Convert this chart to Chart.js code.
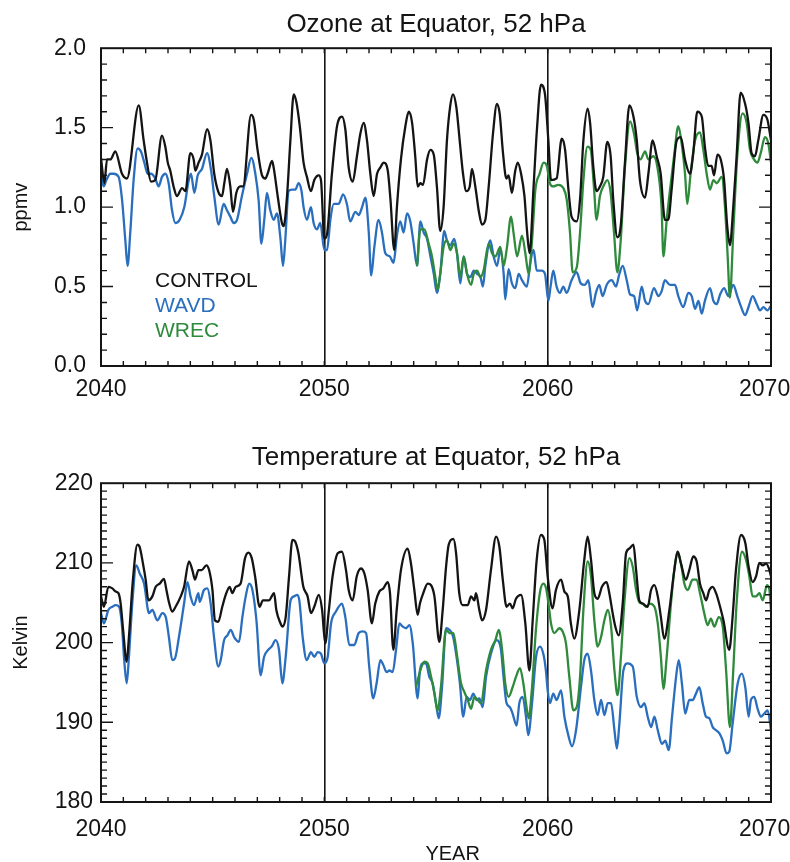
<!DOCTYPE html>
<html>
<head>
<meta charset="utf-8">
<script src="https://cdn.jsdelivr.net/npm/chart.js@4/dist/chart.umd.min.js"></script>
<style>
  html, body { margin: 0; padding: 0; background: #fff; }
  #wrap { position: relative; width: 790px; height: 862px; }
  .panel { position: absolute; left: 0; width: 790px; height: 431px; }
</style>
</head>
<body>
<div id="wrap">
  <div class="panel" style="top:0"><canvas id="ozone" width="790" height="431"></canvas></div>
  <div class="panel" style="top:431px"><canvas id="temp" width="790" height="431"></canvas></div>
</div>
<script>
// [year, value] at the turning points of each curve
const ozoneControl = [
  [2040.00,1.31],[2040.15,1.15],[2040.27,1.30],[2040.42,1.30],[2040.64,1.35],[2040.94,1.21],[2041.16,1.18],[2041.69,1.64],[2041.91,1.42],
  [2042.06,1.28],[2042.24,1.16],[2042.43,1.17],[2042.73,1.45],[2042.88,1.38],[2042.99,1.28],[2043.10,1.23],[2043.25,1.13],[2043.40,1.07],
  [2043.63,1.12],[2043.78,1.10],[2044.00,1.34],[2044.15,1.30],[2044.22,1.23],[2044.37,1.28],[2044.52,1.33],[2044.75,1.49],[2044.90,1.42],
  [2045.07,1.21],[2045.27,1.09],[2045.42,1.07],[2045.52,1.15],[2045.64,1.24],[2045.79,1.13],[2045.91,0.97],[2046.06,1.09],[2046.24,1.13],
  [2046.36,1.13],[2046.72,1.58],[2046.84,1.55],[2047.01,1.36],[2047.21,1.20],[2047.36,1.18],[2047.46,1.21],[2047.66,1.29],[2047.73,1.25],
  [2047.91,1.07],[2048.10,0.90],[2048.18,0.88],[2048.33,1.07],[2048.48,1.42],[2048.63,1.71],[2048.75,1.66],[2048.90,1.51],[2049.07,1.28],
  [2049.22,1.19],[2049.40,1.10],[2049.55,1.17],[2049.75,1.20],[2049.85,1.17],[2050.00,0.80],[2050.12,0.83],[2050.34,1.21],[2050.57,1.51],
  [2050.79,1.57],[2050.94,1.49],[2051.09,1.25],[2051.27,1.16],[2051.46,1.32],[2051.61,1.46],[2051.76,1.53],[2051.91,1.42],[2052.06,1.21],
  [2052.21,1.07],[2052.36,1.21],[2052.51,1.25],[2052.66,1.28],[2052.84,1.23],[2052.96,1.05],[2053.13,0.73],[2053.25,1.00],[2053.43,1.30],
  [2053.63,1.51],[2053.78,1.60],[2053.93,1.53],[2054.07,1.32],[2054.18,1.13],[2054.30,1.15],[2054.42,1.14],[2054.60,1.30],[2054.75,1.36],
  [2054.90,1.33],[2055.04,1.13],[2055.19,0.85],[2055.34,1.00],[2055.49,1.42],[2055.64,1.64],[2055.76,1.71],[2055.91,1.63],[2056.06,1.42],
  [2056.21,1.21],[2056.36,1.10],[2056.51,1.13],[2056.61,1.24],[2056.76,1.13],[2056.91,0.98],[2057.06,0.89],[2057.21,0.92],[2057.36,1.13],
  [2057.55,1.46],[2057.73,1.65],[2057.85,1.59],[2058.00,1.34],[2058.15,1.18],[2058.25,1.20],[2058.40,1.09],[2058.55,1.23],[2058.66,1.28],
  [2058.81,1.21],[2058.96,1.07],[2059.07,0.86],[2059.19,0.71],[2059.37,1.13],[2059.52,1.49],[2059.70,1.77],[2059.88,1.71],[2060.03,1.42],
  [2060.15,1.17],[2060.40,1.18],[2060.63,1.43],[2060.78,1.36],[2060.93,1.11],[2061.07,0.94],[2061.30,0.91],[2061.45,1.05],[2061.60,1.42],
  [2061.79,1.62],[2061.90,1.53],[2062.04,1.26],[2062.19,1.10],[2062.34,1.13],[2062.49,1.19],[2062.67,1.41],[2062.82,1.32],[2062.94,1.04],
  [2063.12,0.81],[2063.27,0.88],[2063.46,1.28],[2063.66,1.64],[2063.84,1.57],[2063.99,1.42],[2064.13,1.17],[2064.36,1.06],[2064.51,1.21],
  [2064.70,1.42],[2064.88,1.32],[2065.06,1.21],[2065.25,0.92],[2065.40,0.92],[2065.55,1.11],[2065.78,1.42],[2065.96,1.44],[2066.15,1.30],
  [2066.37,1.21],[2066.52,1.34],[2066.70,1.60],[2066.90,1.57],[2067.04,1.38],[2067.19,1.26],[2067.34,1.26],[2067.45,1.20],[2067.60,1.33],
  [2067.75,1.30],[2067.90,1.17],[2068.04,0.88],[2068.16,0.76],[2068.31,1.00],[2068.46,1.32],[2068.64,1.72],[2068.84,1.65],[2068.99,1.53],
  [2069.13,1.34],[2069.28,1.32],[2069.43,1.42],[2069.66,1.58],[2069.84,1.55],[2070.00,1.42]
];
const ozoneWavd = [
  [2040.00,1.20],[2040.12,1.13],[2040.24,1.17],[2040.42,1.21],[2040.57,1.21],[2040.79,1.19],[2040.94,1.05],[2041.09,0.79],[2041.19,0.63],
  [2041.31,0.84],[2041.46,1.17],[2041.64,1.37],[2041.79,1.35],[2041.94,1.28],[2042.09,1.21],[2042.24,1.21],[2042.43,1.18],[2042.58,1.13],
  [2042.73,1.19],[2042.88,1.21],[2043.03,1.15],[2043.18,0.98],[2043.33,0.90],[2043.52,0.92],[2043.73,1.00],[2043.93,1.17],[2044.03,1.21],
  [2044.18,1.09],[2044.33,1.20],[2044.52,1.24],[2044.75,1.34],[2044.93,1.23],[2045.07,1.07],[2045.27,0.89],[2045.49,1.02],[2045.64,0.98],
  [2045.79,0.94],[2045.94,0.90],[2046.09,0.92],[2046.31,1.07],[2046.54,1.21],[2046.73,1.31],[2046.91,1.21],[2047.06,1.04],[2047.18,0.77],
  [2047.31,0.92],[2047.43,1.09],[2047.58,0.98],[2047.73,0.92],[2047.88,0.96],[2048.03,0.81],[2048.15,0.63],[2048.25,0.79],[2048.40,1.10],
  [2048.55,1.11],[2048.70,1.11],[2048.85,1.15],[2048.98,1.10],[2049.07,1.00],[2049.22,0.92],[2049.40,1.00],[2049.52,0.90],[2049.67,0.86],
  [2049.82,0.90],[2050.00,0.73],[2050.12,0.73],[2050.27,0.92],[2050.42,1.02],[2050.64,1.02],[2050.84,1.08],[2051.01,1.02],[2051.16,0.91],
  [2051.39,0.97],[2051.54,0.95],[2051.69,1.00],[2051.84,1.06],[2051.99,0.84],[2052.10,0.57],[2052.24,0.75],[2052.43,0.92],[2052.58,0.84],
  [2052.73,0.71],[2052.93,0.69],[2053.10,0.65],[2053.25,0.82],[2053.40,0.91],[2053.55,0.84],[2053.70,0.96],[2053.85,0.91],[2054.00,0.77],
  [2054.15,0.63],[2054.30,0.91],[2054.45,0.84],[2054.60,0.80],[2054.75,0.69],[2054.90,0.58],[2055.04,0.46],[2055.19,0.58],[2055.37,0.85],
  [2055.49,0.79],[2055.64,0.76],[2055.82,0.80],[2055.94,0.71],[2056.09,0.52],[2056.24,0.69],[2056.39,0.58],[2056.54,0.56],[2056.69,0.60],
  [2056.84,0.58],[2056.99,0.56],[2057.10,0.50],[2057.21,0.63],[2057.43,0.79],[2057.58,0.69],[2057.73,0.63],[2057.88,0.73],[2058.03,0.58],
  [2058.10,0.42],[2058.25,0.61],[2058.40,0.52],[2058.55,0.49],[2058.70,0.58],[2058.85,0.54],[2059.07,0.50],[2059.22,0.65],[2059.37,0.73],
  [2059.51,0.60],[2059.73,0.60],[2059.88,0.58],[2060.03,0.41],[2060.13,0.50],[2060.25,0.60],[2060.40,0.50],[2060.55,0.46],[2060.70,0.50],
  [2060.85,0.46],[2061.07,0.54],[2061.30,0.59],[2061.48,0.52],[2061.67,0.51],[2061.82,0.54],[2062.01,0.37],[2062.16,0.46],[2062.31,0.51],
  [2062.46,0.44],[2062.64,0.51],[2062.87,0.54],[2063.06,0.50],[2063.21,0.58],[2063.36,0.63],[2063.54,0.54],[2063.69,0.45],[2063.87,0.44],
  [2064.01,0.35],[2064.21,0.50],[2064.36,0.41],[2064.51,0.39],[2064.76,0.49],[2064.96,0.44],[2065.10,0.47],[2065.25,0.54],[2065.48,0.51],
  [2065.70,0.51],[2065.85,0.44],[2066.07,0.37],[2066.30,0.46],[2066.45,0.44],[2066.60,0.36],[2066.75,0.41],[2066.90,0.33],[2067.04,0.41],
  [2067.27,0.49],[2067.42,0.41],[2067.57,0.39],[2067.72,0.45],[2067.90,0.49],[2068.09,0.44],[2068.31,0.51],[2068.49,0.44],[2068.64,0.38],
  [2068.84,0.32],[2068.99,0.37],[2069.18,0.44],[2069.36,0.39],[2069.51,0.35],[2069.66,0.37],[2069.84,0.35],[2070.00,0.38]
];
const ozoneWrec = [
  [2054.15,0.63],[2054.30,0.86],[2054.48,0.86],[2054.67,0.77],[2054.82,0.69],[2054.97,0.56],[2055.07,0.48],[2055.19,0.58],[2055.34,0.75],
  [2055.49,0.79],[2055.64,0.73],[2055.79,0.77],[2055.94,0.71],[2056.09,0.56],[2056.24,0.69],[2056.39,0.58],[2056.57,0.51],[2056.69,0.58],
  [2056.84,0.60],[2056.99,0.56],[2057.13,0.60],[2057.36,0.77],[2057.51,0.71],[2057.66,0.69],[2057.88,0.75],[2058.03,0.63],[2058.18,0.75],
  [2058.36,0.94],[2058.48,0.83],[2058.63,0.69],[2058.85,0.82],[2059.00,0.71],[2059.15,0.58],[2059.30,0.79],[2059.45,1.11],[2059.64,1.21],
  [2059.82,1.28],[2059.96,1.26],[2060.10,1.15],[2060.25,1.13],[2060.48,1.14],[2060.70,1.12],[2060.85,1.05],[2061.00,0.84],[2061.12,0.59],
  [2061.30,0.62],[2061.45,0.84],[2061.60,1.17],[2061.78,1.38],[2061.93,1.36],[2062.07,1.13],[2062.19,0.92],[2062.34,1.07],[2062.49,1.13],
  [2062.67,1.17],[2062.82,1.09],[2062.97,0.84],[2063.12,0.59],[2063.27,0.79],[2063.46,1.25],[2063.69,1.54],[2063.87,1.46],[2064.01,1.34],
  [2064.16,1.30],[2064.36,1.35],[2064.51,1.30],[2064.73,1.32],[2064.96,1.21],[2065.10,1.00],[2065.18,0.69],[2065.33,0.92],[2065.48,1.11],
  [2065.66,1.32],[2065.85,1.51],[2066.00,1.40],[2066.15,1.21],[2066.25,1.02],[2066.40,1.21],[2066.60,1.42],[2066.82,1.47],[2066.97,1.36],
  [2067.12,1.21],[2067.27,1.11],[2067.42,1.17],[2067.57,1.15],[2067.79,1.19],[2067.94,1.00],[2068.06,0.69],[2068.16,0.43],[2068.31,0.84],
  [2068.49,1.32],[2068.73,1.59],[2068.91,1.53],[2069.06,1.36],[2069.24,1.30],[2069.39,1.28],[2069.54,1.34],[2069.73,1.44],[2069.88,1.40],
  [2070.00,1.28]
];
const tempControl = [
  [2040.00,205.8],[2040.13,204.5],[2040.33,207.0],[2040.51,206.8],[2040.66,206.4],[2040.78,206.2],[2040.88,204.9],[2040.99,201.6],[2041.15,197.6],
  [2041.25,200.7],[2041.43,207.9],[2041.63,212.3],[2041.73,212.0],[2041.88,209.9],[2042.00,207.9],[2042.12,205.3],[2042.30,205.8],[2042.45,207.0],
  [2042.63,207.4],[2042.82,208.0],[2042.93,206.6],[2043.04,205.1],[2043.19,203.9],[2043.34,204.5],[2043.57,205.8],[2043.72,207.0],[2043.94,210.2],
  [2044.09,209.1],[2044.21,207.9],[2044.36,209.1],[2044.51,209.1],[2044.72,209.7],[2044.84,209.1],[2044.99,206.6],[2045.10,202.8],[2045.25,202.6],
  [2045.43,204.5],[2045.61,206.2],[2045.76,207.0],[2045.88,206.2],[2046.03,207.0],[2046.25,207.4],[2046.45,210.6],[2046.60,211.3],[2046.75,210.6],
  [2046.90,208.3],[2047.10,204.5],[2047.25,205.3],[2047.52,205.3],[2047.75,206.2],[2047.85,204.1],[2048.04,202.4],[2048.12,202.0],[2048.27,203.2],
  [2048.42,208.3],[2048.57,212.9],[2048.69,212.7],[2048.84,211.2],[2049.06,207.0],[2049.25,205.8],[2049.40,203.7],[2049.55,204.5],[2049.75,206.0],
  [2049.90,204.1],[2050.04,199.9],[2050.19,203.7],[2050.37,208.3],[2050.60,211.2],[2050.79,211.4],[2050.97,209.1],[2051.09,206.6],[2051.27,205.3],
  [2051.45,208.3],[2051.64,209.3],[2051.79,208.7],[2051.94,206.6],[2052.13,202.4],[2052.28,204.9],[2052.46,206.4],[2052.64,206.8],[2052.84,207.6],
  [2052.94,206.2],[2053.09,199.1],[2053.24,204.1],[2053.43,209.1],[2053.73,211.8],[2053.88,209.9],[2054.03,206.6],[2054.18,203.5],[2054.28,204.9],
  [2054.43,206.2],[2054.63,207.4],[2054.78,207.2],[2054.93,205.8],[2055.15,200.1],[2055.30,204.1],[2055.45,209.5],[2055.57,212.3],[2055.78,213.0],
  [2055.90,211.2],[2056.04,206.2],[2056.19,204.7],[2056.42,204.7],[2056.57,205.8],[2056.72,205.3],[2056.79,206.2],[2056.94,204.1],[2057.06,202.8],
  [2057.24,204.1],[2057.46,209.1],[2057.69,213.3],[2057.84,212.0],[2057.99,207.9],[2058.16,204.5],[2058.31,204.9],[2058.43,204.3],[2058.58,205.5],
  [2058.81,206.0],[2059.00,202.4],[2059.18,196.5],[2059.33,202.8],[2059.51,210.4],[2059.70,213.5],[2059.85,212.9],[2060.00,208.3],[2060.22,204.3],
  [2060.37,206.6],[2060.60,207.9],[2060.75,206.4],[2060.90,205.8],[2061.04,202.4],[2061.19,200.5],[2061.42,204.1],[2061.64,210.4],[2061.79,213.3],
  [2061.94,210.4],[2062.09,206.2],[2062.24,205.5],[2062.43,207.0],[2062.64,207.6],[2062.76,206.2],[2062.91,203.7],[2063.03,202.0],[2063.18,200.9],
  [2063.36,204.9],[2063.51,211.2],[2063.66,211.8],[2063.84,212.3],[2063.96,209.1],[2064.10,205.3],[2064.25,204.9],[2064.48,204.5],[2064.63,206.6],
  [2064.78,207.2],[2064.93,205.8],[2065.07,203.2],[2065.22,200.5],[2065.45,204.1],[2065.67,209.1],[2065.82,211.4],[2065.97,209.9],[2066.19,207.9],
  [2066.34,209.1],[2066.52,210.8],[2066.67,210.2],[2066.82,207.4],[2066.97,206.2],[2067.09,205.3],[2067.24,206.6],[2067.39,207.0],[2067.54,206.2],
  [2067.72,204.5],[2067.87,202.8],[2068.13,199.1],[2068.28,203.2],[2068.43,209.1],[2068.66,213.5],[2068.85,212.5],[2069.00,209.5],[2069.18,207.6],
  [2069.33,208.3],[2069.48,210.0],[2069.63,209.7],[2069.78,209.9],[2069.93,209.1],[2070.00,208.3]
];
const tempWavd = [
  [2040.00,203.7],[2040.13,202.4],[2040.33,204.1],[2040.51,204.5],[2040.66,204.7],[2040.81,204.5],[2040.93,202.4],[2041.04,197.8],[2041.15,194.9],
  [2041.25,198.2],[2041.40,204.9],[2041.58,209.7],[2041.73,208.7],[2041.93,207.4],[2042.15,203.7],[2042.30,204.1],[2042.52,202.8],[2042.75,203.7],
  [2042.90,203.2],[2043.04,200.7],[2043.19,197.8],[2043.31,198.0],[2043.49,200.7],[2043.72,204.9],[2043.87,207.6],[2044.01,205.8],[2044.16,204.7],
  [2044.36,206.2],[2044.42,205.1],[2044.61,206.6],[2044.76,206.8],[2044.91,204.9],[2045.06,200.7],[2045.25,197.0],[2045.36,197.8],[2045.51,200.3],
  [2045.66,200.9],[2045.81,201.6],[2045.96,200.7],[2046.18,200.1],[2046.33,203.2],[2046.48,205.8],[2046.63,207.4],[2046.78,206.6],[2046.96,202.8],
  [2047.15,195.9],[2047.30,198.2],[2047.49,199.1],[2047.64,199.5],[2047.82,200.3],[2047.97,199.1],[2048.12,194.9],[2048.27,198.2],[2048.49,205.3],
  [2048.64,205.8],[2048.79,206.0],[2048.88,205.3],[2049.03,200.7],[2049.21,197.8],[2049.40,198.8],[2049.55,198.2],[2049.70,198.8],[2049.85,198.6],
  [2050.00,197.4],[2050.15,198.2],[2050.30,202.4],[2050.52,203.9],[2050.79,204.9],[2050.94,203.2],[2051.12,199.7],[2051.34,199.7],[2051.54,201.2],
  [2051.72,201.4],[2051.87,201.2],[2052.01,197.0],[2052.19,193.0],[2052.34,194.9],[2052.51,197.8],[2052.64,197.2],[2052.79,196.3],[2052.91,196.5],
  [2053.06,196.3],[2053.21,199.1],[2053.36,202.4],[2053.51,202.0],[2053.66,201.8],[2053.81,202.2],[2053.96,199.9],[2054.18,193.0],[2054.28,196.5],
  [2054.43,197.4],[2054.55,197.4],[2054.70,195.7],[2054.85,194.9],[2055.00,192.4],[2055.12,190.5],[2055.27,194.4],[2055.45,201.8],[2055.60,201.6],
  [2055.75,200.9],[2055.90,198.6],[2056.07,194.9],[2056.22,190.7],[2056.37,193.2],[2056.52,192.8],[2056.67,193.6],[2056.82,192.8],[2056.94,193.0],
  [2057.09,191.9],[2057.24,195.7],[2057.46,198.6],[2057.72,200.3],[2057.91,199.1],[2058.01,196.1],[2058.16,192.4],[2058.31,191.9],[2058.43,191.1],
  [2058.61,189.6],[2058.73,192.4],[2058.88,193.2],[2059.03,190.7],[2059.13,188.4],[2059.30,192.4],[2059.48,198.2],[2059.66,199.5],[2059.82,198.4],
  [2059.92,196.5],[2060.00,194.0],[2060.10,192.4],[2060.25,193.6],[2060.40,192.8],[2060.60,194.0],[2060.75,190.7],[2060.94,188.2],[2061.09,187.0],
  [2061.27,189.0],[2061.49,194.4],[2061.64,197.8],[2061.79,198.6],[2061.94,196.5],[2062.09,192.8],[2062.24,190.9],[2062.39,192.8],[2062.54,190.9],
  [2062.69,192.4],[2062.84,192.4],[2062.99,189.0],[2063.10,186.7],[2063.21,189.8],[2063.39,196.5],[2063.58,197.4],[2063.81,197.0],[2063.99,193.2],
  [2064.18,191.9],[2064.33,192.4],[2064.48,190.7],[2064.63,189.4],[2064.78,190.7],[2064.93,189.0],[2065.12,187.3],[2065.27,187.7],[2065.42,186.5],
  [2065.57,190.7],[2065.75,195.7],[2065.87,197.8],[2066.01,194.9],[2066.16,191.1],[2066.34,192.8],[2066.49,192.8],[2066.64,193.6],[2066.79,194.4],
  [2066.94,192.4],[2067.09,190.7],[2067.24,190.5],[2067.39,189.4],[2067.54,189.0],[2067.69,188.6],[2067.84,187.7],[2068.01,186.1],[2068.13,186.3],
  [2068.28,189.8],[2068.51,194.9],[2068.70,196.1],[2068.85,194.4],[2069.00,190.7],[2069.10,192.8],[2069.25,193.2],[2069.40,191.7],[2069.55,190.7],
  [2069.70,191.1],[2069.85,191.5],[2070.00,189.0]
];
const tempWrec = [
  [2054.10,194.4],[2054.22,195.7],[2054.33,196.8],[2054.48,197.6],[2054.63,197.4],[2054.78,195.7],[2054.93,193.6],[2055.07,191.5],[2055.22,194.4],
  [2055.45,201.6],[2055.60,201.2],[2055.78,201.2],[2055.93,198.6],[2056.12,194.9],[2056.27,193.8],[2056.42,192.8],[2056.57,191.7],[2056.72,193.2],
  [2056.87,192.8],[2057.01,192.4],[2057.24,196.5],[2057.46,199.1],[2057.66,200.3],[2057.81,201.6],[2057.96,199.1],[2058.10,194.9],[2058.25,193.2],
  [2058.43,194.4],[2058.58,195.7],[2058.76,196.8],[2058.91,194.9],[2059.03,192.4],[2059.15,190.5],[2059.30,194.4],[2059.48,201.8],[2059.66,206.4],
  [2059.81,207.4],[2059.93,206.8],[2060.05,204.6],[2060.15,202.4],[2060.30,201.2],[2060.52,201.8],[2060.67,201.4],[2060.82,199.9],[2060.97,195.7],
  [2061.15,191.5],[2061.30,191.9],[2061.45,195.7],[2061.60,204.1],[2061.79,210.2],[2061.94,208.3],[2062.09,202.8],[2062.24,199.5],[2062.39,200.7],
  [2062.54,202.8],[2062.69,204.1],[2062.84,202.0],[2062.99,196.5],[2063.13,193.4],[2063.28,198.2],[2063.43,204.9],[2063.66,210.6],[2063.81,209.5],
  [2063.96,206.6],[2064.10,205.1],[2064.25,204.9],[2064.40,204.5],[2064.58,204.9],[2064.78,204.5],[2064.93,202.4],[2065.07,198.2],[2065.18,194.2],
  [2065.33,198.2],[2065.52,204.9],[2065.72,210.2],[2065.82,211.4],[2065.97,209.9],[2066.12,207.4],[2066.27,206.6],[2066.49,207.9],[2066.67,207.9],
  [2066.82,206.2],[2067.01,203.7],[2067.16,202.2],[2067.31,203.0],[2067.46,202.0],[2067.66,203.2],[2067.84,202.0],[2067.99,196.5],[2068.16,189.4],
  [2068.31,196.5],[2068.46,204.9],[2068.70,211.4],[2068.88,210.4],[2069.03,208.3],[2069.18,205.8],[2069.33,205.8],[2069.48,206.2],[2069.63,205.3],
  [2069.82,207.2],[2069.93,206.6],[2070.00,204.1]
];
const seriesNames = ['CONTROL', 'WAVD', 'WREC'];
const seriesColors = ['#141414', '#2a6ebe', '#2f8a3c'];
const yearTicks = [2040, 2050, 2060, 2070];

const FONT = "'Liberation Sans', Arial, Helvetica, sans-serif";

function toXY(pairs) {
  return pairs.map(p => ({ x: p[0], y: p[1] }));
}

function line(label, pairs, color) {
  return {
    label: label,
    data: toXY(pairs),
    borderColor: color,
    borderWidth: 2.3,
    pointRadius: 0,
    fill: false,
    cubicInterpolationMode: 'monotone'
  };
}

// frame, inward tick marks (IDL style) and the in-plot legend
const framePlugin = {
  id: 'frame',
  afterDatasetsDraw(chart, args, o) {
    const { ctx, chartArea: a, scales: { x, y } } = chart;
    ctx.save();
    ctx.strokeStyle = '#141414';
    ctx.lineWidth = 1.4;
    ctx.beginPath();
    for (let yr = 2041; yr < 2070; yr++) {
      const px = x.getPixelForValue(yr);
      ctx.moveTo(px, a.bottom); ctx.lineTo(px, a.bottom - 5);
      ctx.moveTo(px, a.top); ctx.lineTo(px, a.top + 5);
    }
    const n = Math.round((o.max - o.min) / o.minor);
    for (let k = 1; k < n; k++) {
      const py = y.getPixelForValue(o.min + k * o.minor);
      const len = (k % o.perMajor === 0) ? 12 : 6;
      ctx.moveTo(a.left, py); ctx.lineTo(a.left + len, py);
      ctx.moveTo(a.right, py); ctx.lineTo(a.right - len, py);
    }
    ctx.stroke();
    ctx.lineWidth = 2;
    ctx.strokeRect(a.left, a.top, a.right - a.left, a.bottom - a.top);
    if (o.legend) {
      ctx.font = '21px ' + FONT;
      ctx.textBaseline = 'alphabetic';
      ctx.textAlign = 'left';
      seriesNames.forEach((name, i) => {
        ctx.fillStyle = seriesColors[i];
        ctx.fillText(name, a.left + 54, a.top + 239 + i * 25);
      });
    }
    ctx.restore();
  }
};

function makeChart(id, cfg) {
  return new Chart(document.getElementById(id), {
    type: 'line',
    data: {
      datasets: [
        line(seriesNames[0], cfg.control, seriesColors[0]),
        line(seriesNames[2], cfg.wrec, seriesColors[2]),
        line(seriesNames[1], cfg.wavd, seriesColors[1])
      ]
    },
    plugins: [framePlugin],
    options: {
      responsive: false,
      animation: false,
      layout: { padding: { left: 0, right: 19, top: 0, bottom: 0 } },
      plugins: {
        legend: { display: false },
        tooltip: { enabled: false },
        title: {
          display: true,
          fullSize: false,
          text: cfg.title,
          color: '#141414',
          font: { family: FONT, size: 26, weight: 'normal' },
          padding: cfg.titlePad
        },
        frame: cfg.frame
      },
      scales: {
        x: {
          type: 'linear',
          min: 2040,
          max: 2070,
          afterFit(s) { s.height = cfg.xHeight; s.paddingLeft = 0; s.paddingRight = 0; },
          ticks: {
            stepSize: 1,
            autoSkip: false,
            maxRotation: 0,
            padding: cfg.xPad,
            color: '#141414',
            font: { family: FONT, size: 23 },
            // trailing spaces nudge the last label left so it stays inside the page
            callback: v => yearTicks.includes(v) ? (v === 2070 ? '2070  ' : String(v)) : ''
          },
          grid: {
            drawTicks: false,
            lineWidth: 1.6,
            color: c => (c.tick && (c.tick.value === 2050 || c.tick.value === 2060)) ? '#141414' : 'rgba(0,0,0,0)'
          },
          border: { display: false },
          title: cfg.xTitle
        },
        y: {
          min: cfg.ymin,
          max: cfg.ymax,
          afterFit(s) { s.width = 101; },
          ticks: {
            stepSize: cfg.ystep,
            padding: cfg.yPad,
            color: '#141414',
            font: { family: FONT, size: 23 },
            callback: cfg.yFmt
          },
          grid: { display: false, drawTicks: false },
          border: { display: false },
          title: {
            display: true,
            text: cfg.yTitle,
            color: '#141414',
            font: { family: FONT, size: 20 },
            padding: { top: 9, bottom: 0 }
          }
        }
      }
    }
  });
}

makeChart('ozone', {
  title: 'Ozone at Equator, 52 hPa',
  titlePad: { top: 9, bottom: 8 },
  control: ozoneControl, wavd: ozoneWavd, wrec: ozoneWrec,
  ymin: 0, ymax: 2, ystep: 0.5, yFmt: v => v.toFixed(1), yPad: 15,
  yTitle: 'ppmv',
  xHeight: 65, xPad: 10,
  xTitle: { display: false },
  frame: { min: 0, max: 2, minor: 0.1, perMajor: 5, legend: true }
});

makeChart('temp', {
  title: 'Temperature at Equator, 52 hPa',
  titlePad: { top: 11, bottom: 10 },
  control: tempControl, wavd: tempWavd, wrec: tempWrec,
  ymin: 180, ymax: 220, ystep: 10, yFmt: v => String(v), yPad: 8,
  yTitle: 'Kelvin',
  xHeight: 60, xPad: 14,
  xTitle: {
    display: true,
    // leading spaces shift the centred label slightly right, as in the figure
    text: '      YEAR',
    color: '#141414',
    font: { family: FONT, size: 20, lineHeight: 1 },
    padding: { top: 0, bottom: -2 }
  },
  frame: { min: 180, max: 220, minor: 1, perMajor: 10, legend: false }
});
</script>
</body>
</html>
